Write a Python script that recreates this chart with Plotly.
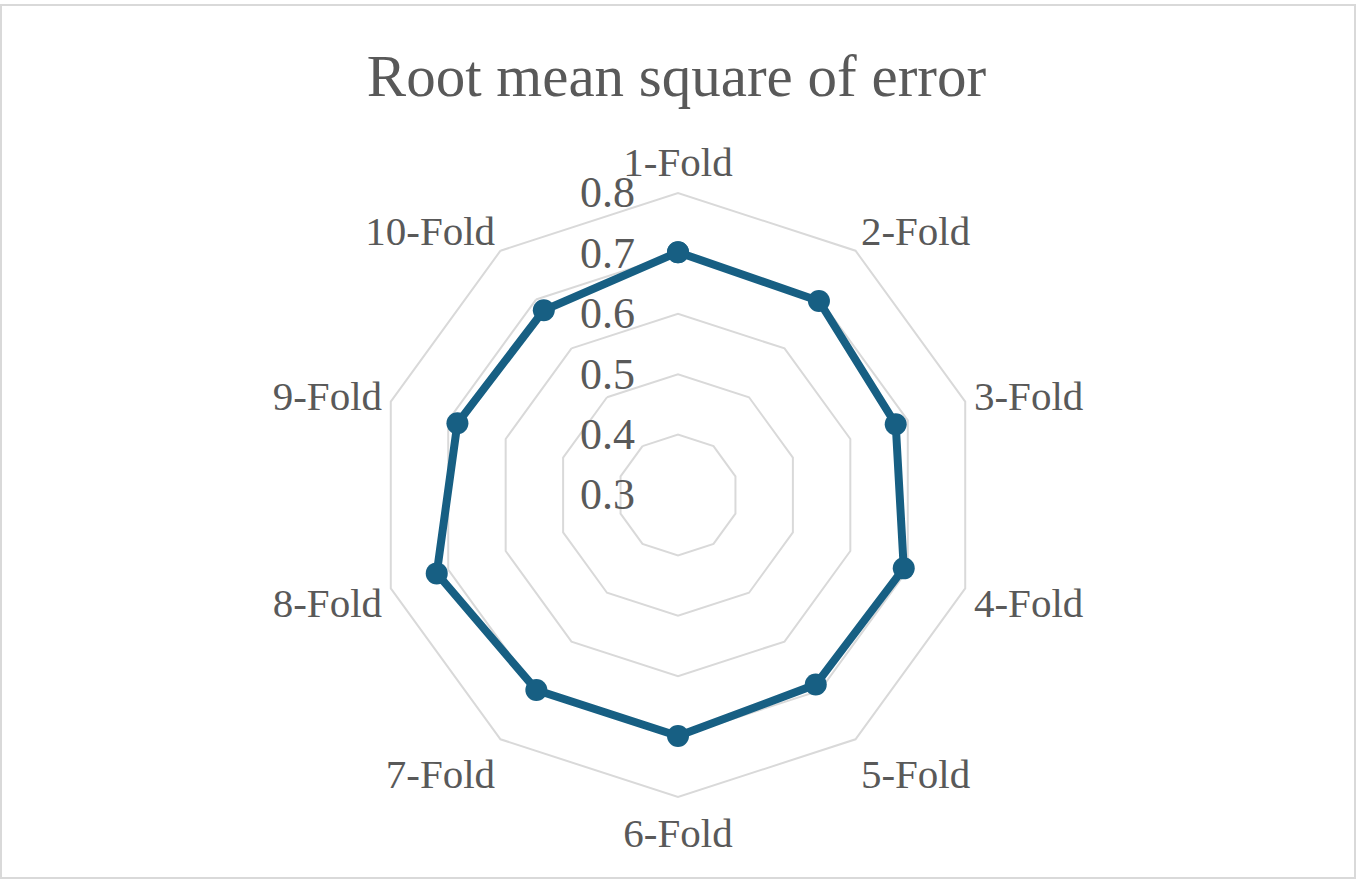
import plotly.graph_objects as go

categories = ["1-Fold", "2-Fold", "3-Fold", "4-Fold", "5-Fold",
              "6-Fold", "7-Fold", "8-Fold", "9-Fold", "10-Fold"]
rmse = [0.702, 0.697, 0.679, 0.693, 0.688, 0.699, 0.699, 0.720, 0.684, 0.678]
radial_ticks = [0.3, 0.4, 0.5, 0.6, 0.7, 0.8]
radial_range = [0.3, 0.8]

W, H = 1357, 884
line_color = "#175f83"
grid_color = "#d9d9d9"
text_color = "#595959"
font_family = "Liberation Serif, Times New Roman, serif"

fig = go.Figure()
fig.add_trace(go.Scatterpolar(
    r=rmse + rmse[:1],
    theta=categories + categories[:1],
    mode="lines+markers",
    line=dict(color=line_color, width=8),
    marker=dict(color=line_color, size=22),
    showlegend=False,
    hoverinfo="r+theta",
))

cx, cy, R = 678, 495, 302
fig.update_layout(
    width=W, height=H,
    margin=dict(l=0, r=0, t=0, b=0),
    paper_bgcolor="white",
    plot_bgcolor="white",
    font=dict(family=font_family, color=text_color, size=41),
    title=dict(text="Root mean square of error", x=0.4985, xanchor="center",
               y=(H - 75) / H, yanchor="middle",
               font=dict(family=font_family, size=59, color=text_color)),
    polar=dict(
        domain=dict(x=[(cx - R) / W, (cx + R) / W],
                    y=[(H - cy - R) / H, (H - cy + R) / H]),
        bgcolor="white",
        gridshape="linear",
        angularaxis=dict(
            direction="clockwise", rotation=90,
            showgrid=False, showline=True, linecolor=grid_color, linewidth=2,
            ticks="", tickfont=dict(size=41, color=text_color, family=font_family),
        ),
        radialaxis=dict(
            range=radial_range, tickvals=radial_ticks,
            ticktext=[f"{v:.1f}" for v in radial_ticks],
            angle=90, tickangle=90, side="counterclockwise",
            showline=False, gridcolor=grid_color, gridwidth=2,
            ticks="outside", ticklen=27, tickcolor="rgba(0,0,0,0)",
            tickfont=dict(size=44, color=text_color, family=font_family),
        ),
    ),
    shapes=[dict(type="rect", xref="paper", yref="paper",
                 x0=1 / W, x1=1355 / W, y0=6 / H, y1=879 / H,
                 line=dict(color=grid_color, width=2), layer="below")],
)

fig.write_html("out.html")
